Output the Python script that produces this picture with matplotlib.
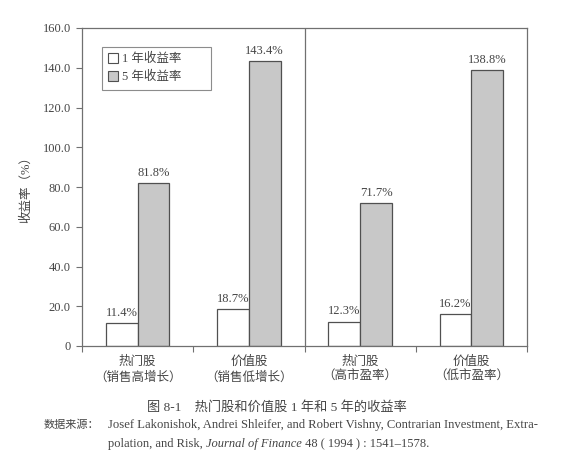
import matplotlib
matplotlib.use("Agg")
import matplotlib.pyplot as plt
import numpy as np
from matplotlib.patches import Patch

plt.rcParams['font.family'] = ['Liberation Serif', 'Noto Sans CJK SC']

categories = ["热门股\n（销售高增长）", "价值股\n（销售低增长）", "热门股\n（高市盈率）", "价值股\n（低市盈率）"]
one_year = [11.4, 18.7, 12.3, 16.2]
five_year = [81.8, 143.4, 71.7, 138.8]
series_names = ["1 年收益率", "5 年收益率"]
yticks = [0, 20, 40, 60, 80, 100, 120, 140, 160]
ytick_labels = ["0", "20.0", "40.0", "60.0", "80.0", "100.0", "120.0", "140.0", "160.0"]

TXT = "#454545"
LINE = "#707070"
EDGE = "#505050"
GRAY = "#c8c8c8"

fig = plt.figure(figsize=(5.61, 4.62), dpi=100)
ax = fig.add_axes([82/561, 1-346/462, 445/561, 318/462])

x = np.arange(len(categories)) + 0.5
w = 0.285
b1 = ax.bar(x - w, one_year, width=w, align='edge', color='white', edgecolor=EDGE, linewidth=0.9, label=series_names[0])
b2 = ax.bar(x, five_year, width=w, align='edge', color=GRAY, edgecolor=EDGE, linewidth=0.9, label=series_names[1])

for rect, v in list(zip(b1, one_year)) + list(zip(b2, five_year)):
    ax.annotate(f"{v:.1f}%", (rect.get_x() + rect.get_width()/2, v), xytext=(0, 3),
                textcoords='offset points', ha='center', va='bottom', fontsize=9, color=TXT)

ax.set_xlim(0, 4)
ax.set_ylim(0, 160)
ax.set_yticks(yticks)
ax.set_yticklabels(ytick_labels)
ax.set_xticks([0, 1, 2, 3, 4])
ax.set_xticklabels([])
ax.set_xticks(x, minor=True)
ax.set_xticklabels(categories, minor=True, fontsize=9, color=TXT, linespacing=1.35)
ax.tick_params(axis='x', which='minor', length=0, pad=7)
ax.tick_params(axis='x', which='major', length=4, direction='out', color=LINE)
ax.tick_params(axis='y', length=4, direction='out', color=LINE, labelsize=9, labelcolor=TXT, pad=4)
for s in ax.spines.values():
    s.set_color(LINE)
    s.set_linewidth(0.9)
ax.axvline(2, color=LINE, linewidth=0.9)

ax.set_ylabel("收益率（%）", fontsize=9, color=TXT, labelpad=7.5)

handles = [Patch(facecolor='white', edgecolor=EDGE, linewidth=0.8),
           Patch(facecolor=GRAY, edgecolor=EDGE, linewidth=0.8)]
leg = ax.legend(handles, series_names, loc='upper left',
                bbox_to_anchor=(20/445, (346-87)/318, 109/445, 40/318), mode='expand',
                fontsize=9, frameon=True, fancybox=False, edgecolor=LINE,
                handlelength=0.8, handleheight=0.8, handletextpad=0.3,
                borderpad=0.5, labelspacing=0.45, borderaxespad=0)
leg.get_frame().set_linewidth(0.8)
for t in leg.get_texts():
    t.set_color(TXT)

fig.text(277/561, 1-407/462, "图 8-1　热门股和价值股 1 年和 5 年的收益率", ha='center', va='center', fontsize=9.5, color=TXT)
fig.text(44/561, 1-425/462, "数据来源：", ha='left', va='center', fontsize=8, color=TXT)
fig.text(108/561, 1-425/462, "Josef Lakonishok, Andrei Shleifer, and Robert Vishny, Contrarian Investment, Extra-",
         ha='left', va='center', fontsize=9.1, color=TXT)
yb = 1-447/462
t1 = fig.text(108/561, yb, "polation, and Risk, ", ha='left', va='baseline', fontsize=9, color=TXT)
t2 = fig.text(0, 0, "Journal of Finance", fontsize=9, color=TXT, style='italic', ha='left', va='baseline')
t3 = fig.text(0, 0, " 48 ( 1994 ) : 1541–1578.", fontsize=9, color=TXT, ha='left', va='baseline')

fig.canvas.draw()
r = fig.canvas.get_renderer()
inv = fig.transFigure.inverted()
bb = t1.get_window_extent(r)
x2 = inv.transform((bb.x1, 0))[0]
t2.set_position((x2, yb))
fig.canvas.draw()
bb2 = t2.get_window_extent(r)
x3 = inv.transform((bb2.x1, 0))[0]
t3.set_position((x3, yb))

fig.savefig("out.png", dpi=100)
